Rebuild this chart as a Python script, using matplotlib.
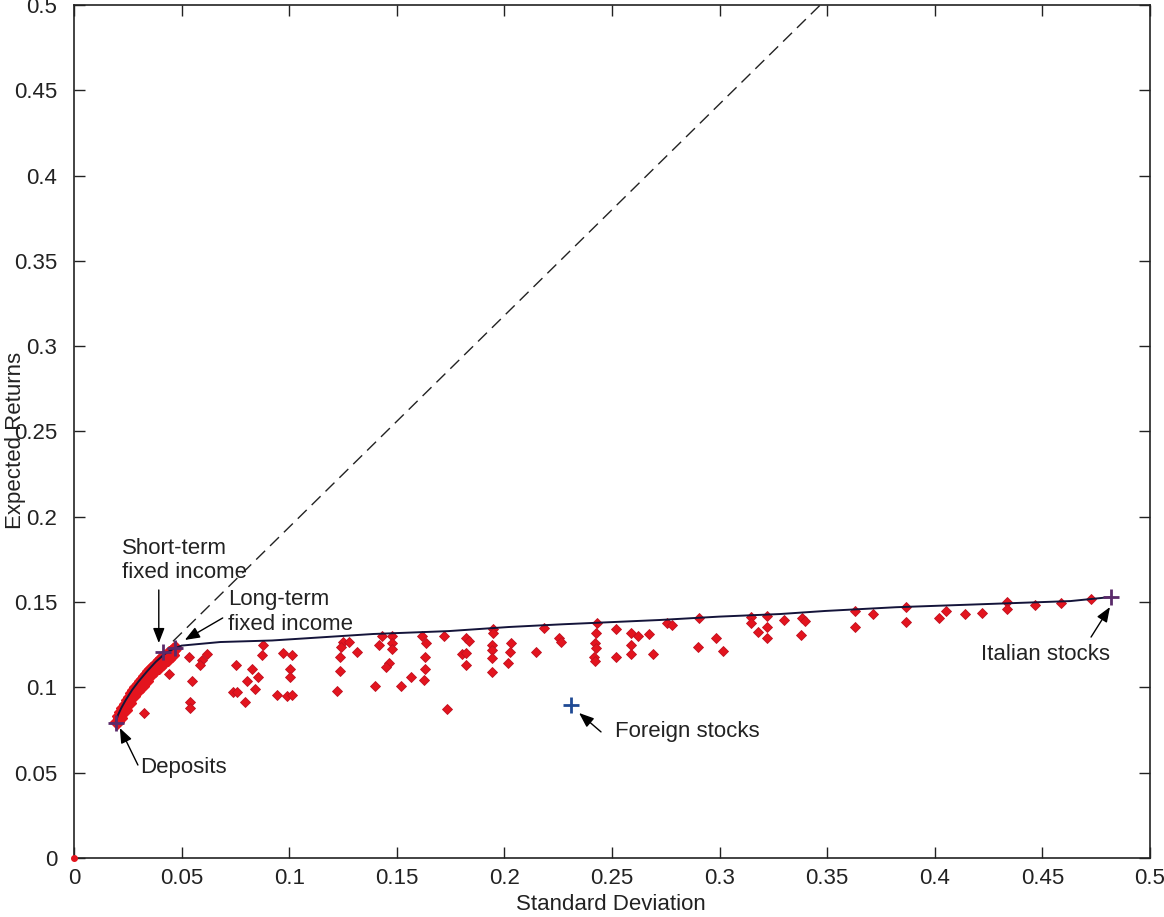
import matplotlib; matplotlib.use("Agg")
import matplotlib.pyplot as plt
from matplotlib.ticker import FuncFormatter, MultipleLocator

plt.rcParams['font.family'] = ['Liberation Sans', 'DejaVu Sans']

# random portfolios (std dev, expected return)
port_sd = [0.0441, 0.0325, 0.0533, 0.0547, 0.0538, 0.0538, 0.0594, 0.0584, 0.0617, 0.0751,
           0.0877, 0.0872, 0.0826, 0.0853, 0.0802, 0.0840, 0.0737, 0.0756, 0.0793, 0.0942,
           0.0969, 0.1011, 0.1002, 0.1002, 0.0988, 0.1011, 0.1248, 0.1280, 0.1243, 0.1234,
           0.1234, 0.1224, 0.1317, 0.1429, 0.1419, 0.1480, 0.1480, 0.1480, 0.1466, 0.1452,
           0.1401, 0.1521, 0.1568, 0.1619, 0.1637, 0.1633, 0.1633, 0.1628, 0.1721, 0.1735,
           0.1823, 0.1837, 0.1804, 0.1823, 0.1823, 0.1948, 0.1948, 0.1943, 0.1943, 0.1943,
           0.1943, 0.2032, 0.2027, 0.2018, 0.2148, 0.2185, 0.2254, 0.2263, 0.2430, 0.2426,
           0.2421, 0.2426, 0.2416, 0.2421, 0.2519, 0.2519, 0.2588, 0.2621, 0.2672, 0.2588,
           0.2588, 0.2690, 0.2755, 0.2778, 0.2904, 0.2899, 0.2982, 0.3015, 0.3145, 0.3145,
           0.3177, 0.3219, 0.3219, 0.3219, 0.3298, 0.3381, 0.3395, 0.3377, 0.3627, 0.3627,
           0.3715, 0.3868, 0.3868, 0.4021, 0.4054, 0.4142, 0.4221, 0.4337, 0.4337, 0.4467,
           0.4587, 0.4726]
port_ret = [0.1079, 0.0850, 0.1178, 0.1038, 0.0914, 0.0879, 0.1161, 0.1131, 0.1196, 0.1131,
            0.1249, 0.1190, 0.1108, 0.1061, 0.1038, 0.0991, 0.0973, 0.0973, 0.0914, 0.0955,
            0.1202, 0.1190, 0.1108, 0.1061, 0.0950, 0.0955, 0.1266, 0.1266, 0.1237, 0.1178,
            0.1096, 0.0979, 0.1208, 0.1301, 0.1249, 0.1301, 0.1260, 0.1225, 0.1143, 0.1120,
            0.1008, 0.1008, 0.1061, 0.1301, 0.1260, 0.1178, 0.1108, 0.1043, 0.1301, 0.0873,
            0.1290, 0.1272, 0.1196, 0.1202, 0.1131, 0.1342, 0.1319, 0.1249, 0.1219, 0.1172,
            0.1090, 0.1260, 0.1208, 0.1143, 0.1208, 0.1348, 0.1290, 0.1266, 0.1378, 0.1319,
            0.1260, 0.1231, 0.1178, 0.1155, 0.1342, 0.1178, 0.1319, 0.1301, 0.1313, 0.1249,
            0.1196, 0.1196, 0.1378, 0.1366, 0.1407, 0.1237, 0.1290, 0.1213, 0.1413, 0.1378,
            0.1325, 0.1419, 0.1354, 0.1290, 0.1395, 0.1407, 0.1389, 0.1307, 0.1448, 0.1354,
            0.1430, 0.1471, 0.1383, 0.1407, 0.1448, 0.1430, 0.1436, 0.1501, 0.1460, 0.1483,
            0.1495, 0.1518]

# fixed-income mixes crowded along the lower frontier
band_sd = [0.020, 0.021, 0.022, 0.023, 0.024, 0.025, 0.026, 0.027, 0.028, 0.029,
           0.030, 0.031, 0.032, 0.033, 0.034, 0.035, 0.036, 0.037, 0.038, 0.039,
           0.040, 0.041, 0.042, 0.043, 0.044, 0.045, 0.046, 0.047,
           0.0215, 0.0235, 0.0255, 0.0275, 0.0295, 0.0315, 0.0335, 0.0355, 0.0375,
           0.0395, 0.0415, 0.0435, 0.0455]
band_ret = [0.080, 0.083, 0.0855, 0.088, 0.0905, 0.0925, 0.0945, 0.0965, 0.0985, 0.1005,
            0.102, 0.1035, 0.105, 0.1065, 0.108, 0.1095, 0.111, 0.112, 0.1135, 0.1145,
            0.116, 0.117, 0.118, 0.119, 0.120, 0.121, 0.122, 0.123,
            0.082, 0.087, 0.091, 0.095, 0.098, 0.101, 0.104, 0.107, 0.110,
            0.112, 0.1145, 0.1165, 0.119]

# efficient frontier
front_sd = [0.0195, 0.0205, 0.022, 0.024, 0.027, 0.030, 0.034, 0.038, 0.042, 0.046,
            0.050, 0.068, 0.092, 0.123, 0.139, 0.174, 0.202, 0.227, 0.272, 0.300,
            0.328, 0.349, 0.382, 0.416, 0.463, 0.482]
front_ret = [0.080, 0.084, 0.088, 0.0925, 0.0985, 0.1035, 0.1095, 0.115, 0.1195, 0.1225,
             0.1245, 0.1266, 0.1275, 0.130, 0.1313, 0.133, 0.1354, 0.137, 0.1395, 0.1415,
             0.143, 0.1448, 0.147, 0.1485, 0.1506, 0.153]

# capital market line (dashed)
cml_sd = [0.046, 0.36]
cml_ret = [0.127, 0.5164]

# single assets
asset_names = ["Deposits", "Short-term\nfixed income", "Long-term\nfixed income",
               "Foreign stocks", "Italian stocks"]
asset_sd = [0.0195, 0.0413, 0.0468, 0.231, 0.482]
asset_ret = [0.079, 0.1208, 0.1231, 0.0897, 0.153]
asset_col = ["#5a2a6a", "#5a2a6a", "#5a2a6a", "#1f4a94", "#5a2a6a"]

# label layout: (text x, text y, arrow tail x, arrow tail y, arrow tip x, arrow tip y)
label_pos = {
    "Deposits": (0.0306, 0.0528, 0.0297, 0.0545, 0.0213, 0.0762),
    "Short-term\nfixed income": (0.0223, 0.1745, 0.0394, 0.1571, 0.0394, 0.126),
    "Long-term\nfixed income": (0.0714, 0.1442, 0.0691, 0.1407, 0.0515, 0.1278),
    "Foreign stocks": (0.2514, 0.0739, 0.2449, 0.0739, 0.2347, 0.085),
    "Italian stocks": (0.4216, 0.119, 0.4726, 0.1295, 0.4814, 0.1471),
}

fig = plt.figure(figsize=(11.64, 9.17), dpi=100)
ax = fig.add_axes([74/1164, 59/917, 1076/1164, 853/917])

red = "#e3141e"
ax.plot(band_sd, band_ret, "D", color=red, ms=7.5, mec=red, zorder=2)
ax.plot(port_sd, port_ret, "D", color=red, ms=5.2, mec="#c01020", mew=0.6, zorder=2)
ax.plot([0], [0], "o", color=red, ms=4, clip_on=False, zorder=5)
ax.plot(front_sd, front_ret, "-", color="#14143a", lw=1.4, zorder=3)
ax.plot(cml_sd, cml_ret, color="#222222", lw=1.0, dashes=(9, 5), zorder=3)
for sd, rt, c in zip(asset_sd, asset_ret, asset_col):
    ax.plot(sd, rt, "+", color=c, ms=12, mew=2.0, zorder=4)

for name in asset_names:
    tx, ty, ax0, ay0, ax1, ay1 = label_pos[name]
    ax.text(tx, ty, name, fontsize=16, ha="left", va="center", linespacing=1.2, color="#222222")
    ax.annotate("", xy=(ax1, ay1), xytext=(ax0, ay0),
                arrowprops=dict(arrowstyle="-|>,head_length=0.9,head_width=0.35",
                                color="black", lw=1.0, shrinkA=0, shrinkB=0))

ax.set_xlim(0, 0.5)
ax.set_ylim(0, 0.5)
ax.xaxis.set_major_locator(MultipleLocator(0.05))
ax.yaxis.set_major_locator(MultipleLocator(0.05))
fmt = FuncFormatter(lambda v, p: "%g" % round(v, 2))
ax.xaxis.set_major_formatter(fmt)
ax.yaxis.set_major_formatter(fmt)
ax.tick_params(direction="in", length=8, width=1, top=True, right=True, labelsize=16,
               colors="#222222")
ax.tick_params(axis="x", pad=7)
ax.tick_params(axis="y", pad=12)
for s in ax.spines.values():
    s.set_linewidth(1.2)
    s.set_color("#222222")

fig.text(611/1164, 1 - 905/917, "Standard Deviation", fontsize=16, ha="center", va="center",
         color="#222222")
fig.text(16/1164, 1 - 440/917, "Expected Returns", fontsize=16, ha="center", va="center",
         rotation=90, color="#222222")

fig.savefig("out.png", dpi=100)
